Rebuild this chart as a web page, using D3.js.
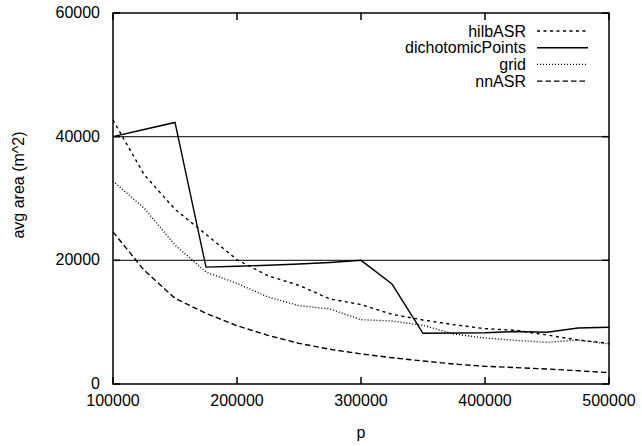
<!DOCTYPE html>
<html>
<head>
<meta charset="utf-8">
<script src="https://cdn.jsdelivr.net/npm/d3@7"></script>
<style>
    body { margin: 0; background: #fff; }
    text { font-family: "Liberation Sans", Arial, sans-serif; fill: #000; }
</style>
</head>
<body>
<svg id="chart" width="642" height="446"></svg>
<script>
// data
const pValues = [100000, 125000, 150000, 175000, 200000, 225000, 250000, 275000, 300000,
                 325000, 350000, 375000, 400000, 425000, 450000, 475000, 500000];
const hilbASR = [42700, 33900, 28250, 24200, 20100, 17500, 15950, 13750, 12850,
                 11270, 10350, 9590, 8950, 8680, 7920, 7110, 6580];
const dichotomicPoints = [40000, 41150, 42300, 18900, 19050, 19200, 19400, 19650, 20000,
                          16170, 8200, 8250, 8300, 8500, 8360, 9060, 9170];
const grid = [32800, 28460, 22480, 18100, 16280, 14070, 12670, 12130, 10400,
              10190, 9490, 8080, 7440, 7060, 6740, 7110, 6470];
const nnASR = [24600, 18430, 13860, 11430, 9430, 7870, 6580, 5610, 4870,
               4250, 3720, 3230, 2860, 2650, 2430, 2150, 1830];
const xTicks = [100000, 200000, 300000, 400000, 500000];
const yTicks = [0, 20000, 40000, 60000];
const gridLines = [20000, 40000];

const seriesList = [
    { name: 'hilbASR', values: hilbASR, dash: '3,3.5' },
    { name: 'dichotomicPoints', values: dichotomicPoints, dash: null },
    { name: 'grid', values: grid, dash: '1,2' },
    { name: 'nnASR', values: nnASR, dash: '5.5,3' }
];

// =========================================================================
// Layout
// =========================================================================
const plot = { left: 113, right: 609, top: 13, bottom: 384 };
const fontSize = 16;

const svg = d3.select('#chart');
const x = d3.scaleLinear().domain([100000, 500000]).range([plot.left, plot.right]);
const y = d3.scaleLinear().domain([0, 60000]).range([plot.bottom, plot.top]);

// horizontal grid lines
svg.append('g').selectAll('line').data(gridLines).join('line')
    .attr('x1', plot.left).attr('x2', plot.right)
    .attr('y1', d => y(d)).attr('y2', d => y(d))
    .attr('stroke', '#333').attr('stroke-width', 1.2);

// inner ticks on all four sides
const tickLen = 7;
const ticks = svg.append('g').attr('stroke', '#000').attr('stroke-width', 1.5);
xTicks.forEach(t => {
    ticks.append('line').attr('x1', x(t)).attr('x2', x(t)).attr('y1', plot.bottom).attr('y2', plot.bottom - tickLen);
    ticks.append('line').attr('x1', x(t)).attr('x2', x(t)).attr('y1', plot.top).attr('y2', plot.top + tickLen);
});
yTicks.forEach(t => {
    ticks.append('line').attr('x1', plot.left).attr('x2', plot.left + tickLen).attr('y1', y(t)).attr('y2', y(t));
    ticks.append('line').attr('x1', plot.right).attr('x2', plot.right - tickLen).attr('y1', y(t)).attr('y2', y(t));
});

// tick labels
svg.append('g').selectAll('text').data(xTicks).join('text')
    .attr('x', d => x(d)).attr('y', plot.bottom + 22)
    .attr('text-anchor', 'middle').attr('font-size', fontSize)
    .text(d => d);
svg.append('g').selectAll('text').data(yTicks).join('text')
    .attr('x', plot.left - 13).attr('y', d => y(d) + 5)
    .attr('text-anchor', 'end').attr('font-size', fontSize)
    .text(d => d);

// axis titles
svg.append('text').attr('x', (plot.left + plot.right) / 2).attr('y', 438)
    .attr('text-anchor', 'middle').attr('font-size', fontSize).text('p');
svg.append('text').attr('transform', 'translate(24,185) rotate(-90)')
    .attr('text-anchor', 'middle').attr('font-size', fontSize).text('avg area (m^2)');

// series
const line = d3.line().x((d, i) => x(pValues[i])).y(d => y(d));
svg.append('g').selectAll('path').data(seriesList).join('path')
    .attr('d', d => line(d.values))
    .attr('fill', 'none').attr('stroke', '#000').attr('stroke-width', 1.4)
    .attr('stroke-dasharray', d => d.dash);

// legend
const legend = svg.append('g');
seriesList.forEach((s, i) => {
    const ly = 31 + i * 16.7;
    legend.append('text').attr('x', 526).attr('y', ly + 5.5)
        .attr('text-anchor', 'end').attr('font-size', fontSize).text(s.name);
    legend.append('line').attr('x1', 537).attr('x2', 588).attr('y1', ly).attr('y2', ly)
        .attr('stroke', '#000').attr('stroke-width', 1.4)
        .attr('stroke-dasharray', s.dash);
});

// border
svg.append('rect').attr('x', plot.left).attr('y', plot.top)
    .attr('width', plot.right - plot.left).attr('height', plot.bottom - plot.top)
    .attr('fill', 'none').attr('stroke', '#000').attr('stroke-width', 1.5);
</script>
</body>
</html>
